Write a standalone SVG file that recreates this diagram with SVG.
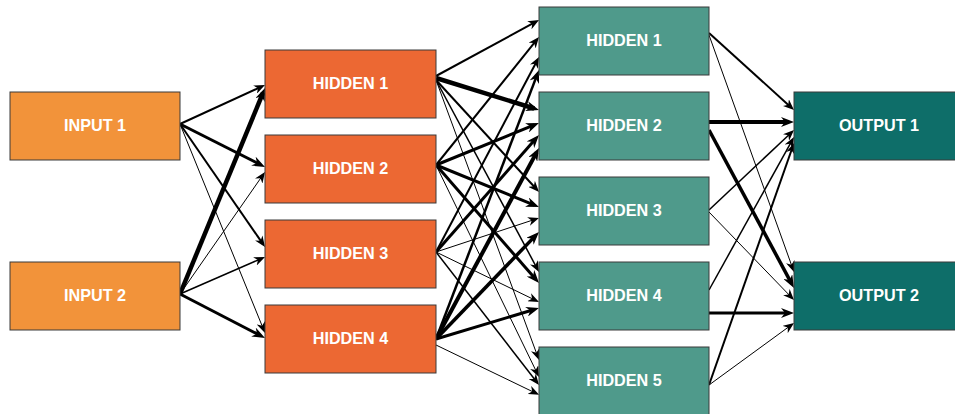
<svg xmlns="http://www.w3.org/2000/svg" width="955" height="414" viewBox="0 0 955 414">
  <style>
    .box { stroke: #3a3a3a; stroke-width: 1; }
    .in { fill: #F2933A; }
    .h1 { fill: #EC6833; }
    .h2 { fill: #4F9A8B; }
    .out { fill: #0E6E69; }
    .lbl { font-family: "Liberation Sans", Arial, sans-serif; font-weight: bold; font-size: 16.2px; fill: #ffffff; text-anchor: middle; }
    #connectors line { stroke: #000; fill: none; }
    .s { marker-end: url(#ah); }
    .l { marker-end: url(#ahL); }
  </style>
  <defs>
    <marker id="ah" markerUnits="userSpaceOnUse" markerWidth="11" markerHeight="9" viewBox="0 0 11 9" refX="6" refY="4.5" orient="auto">
      <path d="M0,0 L11,4.5 L0,9 L3.3,4.5 Z" fill="#000"/>
    </marker>
    <marker id="ahL" markerUnits="userSpaceOnUse" markerWidth="13" markerHeight="10" viewBox="0 0 13 10" refX="8" refY="5" orient="auto">
      <path d="M0,0 L13,5 L0,10 L4,5 Z" fill="#000"/>
    </marker>
  </defs>
  <rect width="955" height="414" fill="#ffffff"/>

  <g id="connectors">
    <!-- inputs to first hidden layer -->
    <line class="s" x1="180" y1="124" x2="260.45" y2="87.09" stroke-width="2"/>
    <line class="l" x1="180" y1="124" x2="260.54" y2="164.74" stroke-width="3"/>
    <line class="s" x1="180" y1="124" x2="262.16" y2="242.89" stroke-width="2"/>
    <line class="s" x1="180" y1="124" x2="263.12" y2="328.37" stroke-width="1"/>
    <line class="l" x1="180" y1="294" x2="263.09" y2="92.62" stroke-width="4.5"/>
    <line class="s" x1="180" y1="294" x2="262.14" y2="176.10" stroke-width="1"/>
    <line class="s" x1="180" y1="294" x2="260.42" y2="259.00" stroke-width="1.5"/>
    <line class="l" x1="180" y1="294" x2="260.56" y2="335.70" stroke-width="3"/>

    <!-- first hidden layer to second hidden layer -->
    <line class="s" x1="436" y1="76" x2="534.64" y2="22.45" stroke-width="2"/>
    <line class="l" x1="436" y1="78" x2="534.23" y2="108.52" stroke-width="4.5"/>
    <line class="s" x1="436" y1="80" x2="535.65" y2="188.29" stroke-width="2"/>
    <line class="s" x1="436" y1="80" x2="536.65" y2="267.58" stroke-width="1.5"/>
    <line class="s" x1="436" y1="80" x2="537.28" y2="355.30" stroke-width="1"/>

    <line class="s" x1="436" y1="165" x2="535.87" y2="40.90" stroke-width="2"/>
    <line class="l" x1="436" y1="165" x2="534.37" y2="124.89" stroke-width="3"/>
    <line class="l" x1="436" y1="165" x2="534.37" y2="205.11" stroke-width="3"/>
    <line class="l" x1="436" y1="165" x2="535.71" y2="279.23" stroke-width="3"/>
    <line class="s" x1="436" y1="165" x2="536.82" y2="372.50" stroke-width="1"/>

    <line class="s" x1="436" y1="252" x2="536.66" y2="61.42" stroke-width="2"/>
    <line class="l" x1="436" y1="252" x2="535.70" y2="138.75" stroke-width="3"/>
    <line class="s" x1="436" y1="252" x2="534.25" y2="219.57" stroke-width="1"/>
    <line class="s" x1="436" y1="252" x2="534.50" y2="299.82" stroke-width="1"/>
    <line class="s" x1="436" y1="252" x2="535.94" y2="381.05" stroke-width="1.5"/>

    <line class="l" x1="436" y1="339" x2="537.21" y2="74.67" stroke-width="2.5"/>
    <line class="l" x1="436" y1="339" x2="536.63" y2="152.40" stroke-width="4"/>
    <line class="l" x1="436" y1="339" x2="535.53" y2="235.60" stroke-width="3.5"/>
    <line class="l" x1="436" y1="339" x2="534.21" y2="309.44" stroke-width="3"/>
    <line class="s" x1="436" y1="345" x2="534.61" y2="392.61" stroke-width="1"/>

    <!-- second hidden layer to outputs -->
    <line class="s" x1="709" y1="33" x2="790.29" y2="106.64" stroke-width="2"/>
    <line class="s" x1="709" y1="35" x2="792.31" y2="267.29" stroke-width="1"/>
    <line class="l" x1="709" y1="122" x2="789" y2="122" stroke-width="4"/>
    <line class="l" x1="709" y1="130" x2="791.63" y2="283.60" stroke-width="3.5"/>
    <line class="s" x1="709" y1="210" x2="790.36" y2="133.43" stroke-width="1.5"/>
    <line class="s" x1="709" y1="212" x2="790.53" y2="296.40" stroke-width="1"/>
    <line class="s" x1="709" y1="290" x2="791.57" y2="141.37" stroke-width="1.5"/>
    <line class="l" x1="709" y1="313" x2="789" y2="313" stroke-width="3"/>
    <line class="s" x1="709" y1="385" x2="792.34" y2="147.72" stroke-width="2"/>
    <line class="s" x1="709" y1="385" x2="789.96" y2="325.95" stroke-width="1"/>
  </g>

  <g id="input1"><rect class="box in" x="10" y="92" width="170" height="68"/><text class="lbl" x="95" y="130.5">INPUT 1</text></g>
  <g id="input2"><rect class="box in" x="10" y="262" width="170" height="68"/><text class="lbl" x="95" y="300.5">INPUT 2</text></g>

  <g id="hiddenA1"><rect class="box h1" x="265" y="50" width="171" height="68"/><text class="lbl" x="350.5" y="88.5">HIDDEN 1</text></g>
  <g id="hiddenA2"><rect class="box h1" x="265" y="135" width="171" height="68"/><text class="lbl" x="350.5" y="173.5">HIDDEN 2</text></g>
  <g id="hiddenA3"><rect class="box h1" x="265" y="220" width="171" height="68"/><text class="lbl" x="350.5" y="258.5">HIDDEN 3</text></g>
  <g id="hiddenA4"><rect class="box h1" x="265" y="305" width="171" height="68"/><text class="lbl" x="350.5" y="343.5">HIDDEN 4</text></g>

  <g id="hiddenB1"><rect class="box h2" x="539" y="7" width="170" height="68"/><text class="lbl" x="624" y="45.5">HIDDEN 1</text></g>
  <g id="hiddenB2"><rect class="box h2" x="539" y="92" width="170" height="68"/><text class="lbl" x="624" y="130.5">HIDDEN 2</text></g>
  <g id="hiddenB3"><rect class="box h2" x="539" y="177" width="170" height="68"/><text class="lbl" x="624" y="215.5">HIDDEN 3</text></g>
  <g id="hiddenB4"><rect class="box h2" x="539" y="262" width="170" height="68"/><text class="lbl" x="624" y="300.5">HIDDEN 4</text></g>
  <g id="hiddenB5"><rect class="box h2" x="539" y="347" width="170" height="68"/><text class="lbl" x="624" y="385.5">HIDDEN 5</text></g>

  <g id="output1"><rect class="box out" x="794" y="92" width="170" height="68"/><text class="lbl" x="879" y="130.5">OUTPUT 1</text></g>
  <g id="output2"><rect class="box out" x="794" y="262" width="170" height="68"/><text class="lbl" x="879" y="300.5">OUTPUT 2</text></g>
</svg>
